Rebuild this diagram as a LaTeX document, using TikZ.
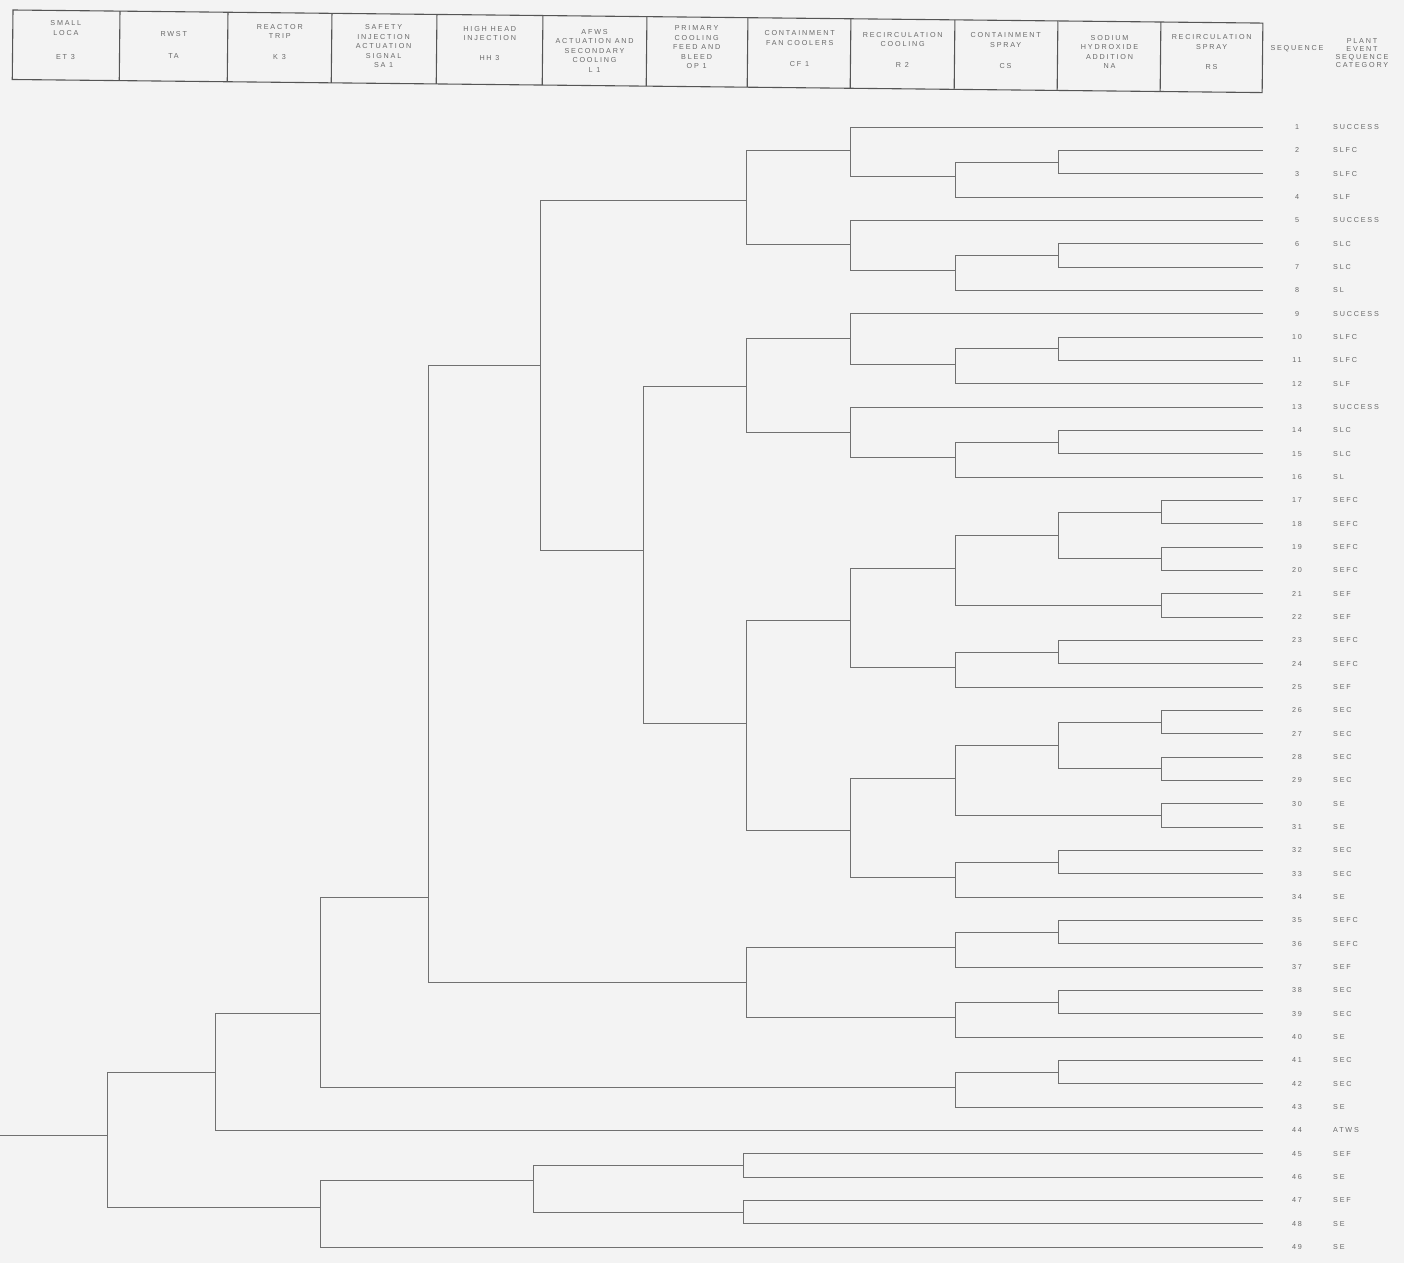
\documentclass[tikz,border=0pt]{standalone}
\usepackage{fontspec}
\setmainfont{Liberation Sans}[LetterSpace=25]
\definecolor{bg}{RGB}{243,243,243}
\definecolor{ln}{RGB}{112,112,112}
\definecolor{bx}{RGB}{85,85,85}
\definecolor{tx}{RGB}{105,105,105}
\begin{document}
\begin{tikzpicture}[x=1pt,y=-1pt,
  hdr/.style={font=\fontsize{7.2}{9.5}\selectfont, text=tx, align=center, inner sep=0pt},
  tr/.style={draw=ln, line width=0.8pt},
  box/.style={draw=bx, line width=1.1pt},
  num/.style={font=\fontsize{7.2}{9}\selectfont, text=tx, inner sep=0pt, anchor=center},
  cat/.style={font=\fontsize{7.2}{9}\selectfont, text=tx, inner sep=0pt, anchor=west}]
\fill[bg] (0,0) rectangle (1404,1263);
\useasboundingbox (0,0) rectangle (1404,1263);

% ---------- header ----------
\begin{scope}[rotate around={-0.6:(13,10)}]
  \draw[box] (13,10) rectangle (1263,79.5);
  \foreach \xx in {120,228,332,437,543,647,748,851,955,1058,1161}
    \draw[box] (\xx,10) -- (\xx,79.5);
  \node[hdr] (h1) at (66,27.4) {SMALL\\LOCA};
  \node[hdr] (h1c) at (66,56.4) {ET 3};
  \node[hdr] (h2) at (174,32.3) {RWST};
  \node[hdr] (h2c) at (174,54.3) {TA};
  \node[hdr] (h3) at (280,28.5) {REACTOR\\TRIP};
  \node[hdr] (h3c) at (280,54.2) {K 3};
  \node[hdr] (h4) at (384,42.6) {SAFETY\\INJECTION\\ACTUATION\\SIGNAL\\SA 1};
  \node[hdr] (h5) at (490,28.5) {HIGH HEAD\\INJECTION};
  \node[hdr] (h5c) at (490,53) {HH 3};
  \node[hdr] (h6) at (595,44.4) {AFWS\\ACTUATION AND\\SECONDARY\\COOLING\\L 1};
  \node[hdr] (h7) at (697,40.3) {PRIMARY\\COOLING\\FEED AND\\BLEED\\OP 1};
  \node[hdr] (h8) at (800,29.8) {CONTAINMENT\\FAN COOLERS};
  \node[hdr] (h8c) at (800,55.8) {CF 1};
  \node[hdr] (h9) at (903,30.2) {RECIRCULATION\\COOLING};
  \node[hdr] (h9c) at (903,55.7) {R 2};
  \node[hdr] (h10) at (1006,29.6) {CONTAINMENT\\SPRAY};
  \node[hdr] (h10c) at (1006,55.6) {CS};
  \node[hdr] (h11) at (1110,40.5) {SODIUM\\HYDROXIDE\\ADDITION\\NA};
  \node[hdr] (h12) at (1212,29.4) {RECIRCULATION\\SPRAY};
  \node[hdr] (h12c) at (1212,54.4) {RS};
\end{scope}
\node[hdr] (hs) at (1297,49) {SEQUENCE};
\node[hdr, font=\fontsize{7.2}{8}\selectfont] (hp) at (1362,53) {PLANT\\EVENT\\SEQUENCE\\CATEGORY};

% ---------- end points and labels ----------
\foreach \n/\cat [evaluate=\n as \yy using 127+(\n-1)*23.333] in
  {1/SUCCESS,2/SLFC,3/SLFC,4/SLF,5/SUCCESS,6/SLC,7/SLC,8/SL,9/SUCCESS,10/SLFC,
   11/SLFC,12/SLF,13/SUCCESS,14/SLC,15/SLC,16/SL,17/SEFC,18/SEFC,19/SEFC,20/SEFC,
   21/SEF,22/SEF,23/SEFC,24/SEFC,25/SEF,26/SEC,27/SEC,28/SEC,29/SEC,30/SE,
   31/SE,32/SEC,33/SEC,34/SE,35/SEFC,36/SEFC,37/SEF,38/SEC,39/SEC,40/SE,
   41/SEC,42/SEC,43/SE,44/ATWS,45/SEF,46/SE,47/SEF,48/SE,49/SE}
{
  \coordinate (e\n) at (1263,\yy);
  \node[num] (q\n) at (1297,\yy) {\n};
  \node[cat] (c\n) at (1333,\yy) {\cat};
}

% ---------- branch points ----------
\coordinate (st) at (0,1135);
\coordinate (A) at (107,1135);
\coordinate (B) at (215,1072);
\coordinate (C) at (320,1207);
\coordinate (D) at (320,1013);
\coordinate (E) at (428,897);
\coordinate (F) at (540,365);
\coordinate (G) at (746,200);
\coordinate (H) at (850,150);
\coordinate (I) at (955,176);
\coordinate (J) at (1058,162);
\coordinate (K) at (850,244);
\coordinate (L) at (955,270);
\coordinate (M) at (1058,255.3);
\coordinate (N) at (643,550);
\coordinate (O) at (746,386);
\coordinate (P) at (850,338);
\coordinate (Q) at (955,364);
\coordinate (R) at (1058,348.7);
\coordinate (S) at (850,432);
\coordinate (T) at (955,457);
\coordinate (U) at (1058,442);
\coordinate (V) at (746,723);
\coordinate (W) at (850,620);
\coordinate (X) at (955,568);
\coordinate (Y) at (1058,535.3);
\coordinate (Z1) at (1161,512);
\coordinate (Z2) at (1161,558.7);
\coordinate (Z3) at (1161,605.3);
\coordinate (AA) at (955,667);
\coordinate (AB) at (1058,652);
\coordinate (AC) at (850,830);
\coordinate (AD) at (955,778);
\coordinate (AE) at (1058,745.3);
\coordinate (AF) at (1161,722);
\coordinate (AG) at (1161,768.7);
\coordinate (AH) at (1161,815.3);
\coordinate (AI) at (955,877);
\coordinate (AJ) at (1058,862);
\coordinate (AK) at (746,982);
\coordinate (AL) at (955,947);
\coordinate (AM) at (1058,932);
\coordinate (AN) at (955,1017);
\coordinate (AO) at (1058,1002);
\coordinate (AP) at (955,1087);
\coordinate (AQ) at (1058,1072);
\coordinate (AR) at (533,1180);
\coordinate (AS) at (743,1165.3);
\coordinate (AT) at (743,1212);

% ---------- tree ----------
\draw[tr] (st) -- (A);
\foreach \p/\c in {A/B,A/C,B/D,B/e44,C/AR,C/e49,D/E,D/AP,E/F,E/AK,F/G,F/N,
  G/H,G/K,H/e1,H/I,I/J,I/e4,J/e2,J/e3,K/e5,K/L,L/M,L/e8,M/e6,M/e7,
  N/O,N/V,O/P,O/S,P/e9,P/Q,Q/R,Q/e12,R/e10,R/e11,S/e13,S/T,T/U,T/e16,U/e14,U/e15,
  V/W,V/AC,W/X,W/AA,X/Y,X/Z3,Y/Z1,Y/Z2,Z1/e17,Z1/e18,Z2/e19,Z2/e20,Z3/e21,Z3/e22,
  AA/AB,AA/e25,AB/e23,AB/e24,AC/AD,AC/AI,AD/AE,AD/AH,AE/AF,AE/AG,
  AF/e26,AF/e27,AG/e28,AG/e29,AH/e30,AH/e31,AI/AJ,AI/e34,AJ/e32,AJ/e33,
  AK/AL,AK/AN,AL/AM,AL/e37,AM/e35,AM/e36,AN/AO,AN/e40,AO/e38,AO/e39,
  AP/AQ,AP/e43,AQ/e41,AQ/e42,AR/AS,AR/AT,AS/e45,AS/e46,AT/e47,AT/e48}
  \draw[tr] (\p) |- (\c);
\end{tikzpicture}
\end{document}
